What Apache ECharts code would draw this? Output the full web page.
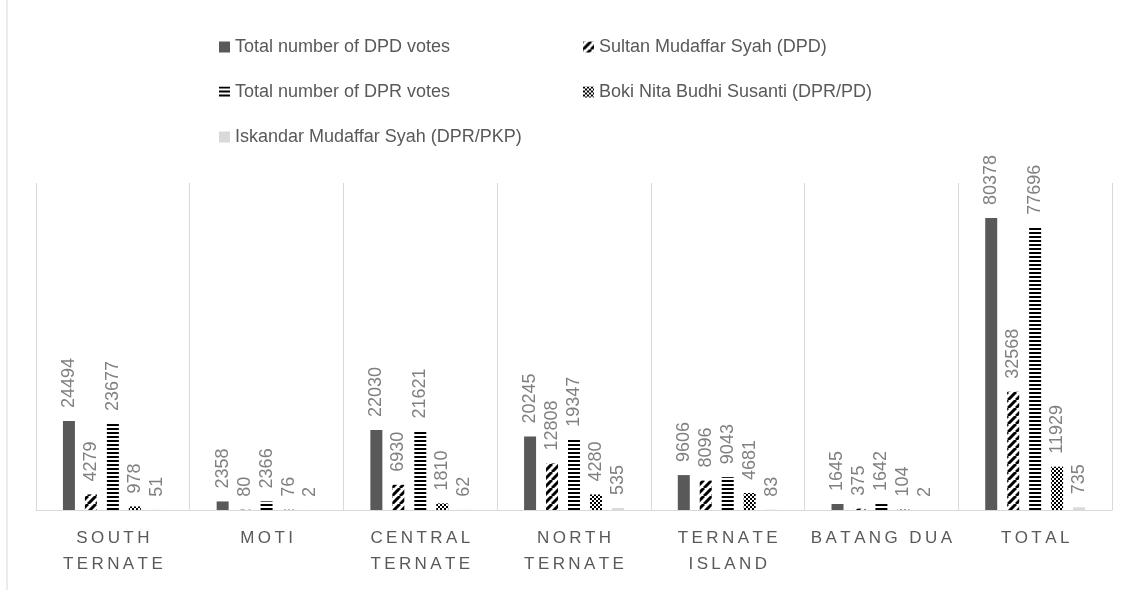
<!DOCTYPE html>
<html>
<head>
<meta charset="utf-8">
<script src="https://cdn.jsdelivr.net/npm/echarts@6/dist/echarts.min.js"></script>
<style>
  html, body { margin: 0; padding: 0; background: #fff; }
  #main { width: 1133px; height: 590px; }
</style>
</head>
<body>
<div id="main"></div>
<script>
// data
var categories = ['South Ternate', 'Moti', 'Central Ternate', 'North Ternate', 'Ternate Island', 'Batang Dua', 'Total'];
var catLabels = ['SOUTH\nTERNATE', 'MOTI', 'CENTRAL\nTERNATE', 'NORTH\nTERNATE', 'TERNATE\nISLAND', 'BATANG DUA', 'TOTAL'];
var seriesNames = [
  'Total number of DPD votes',
  'Sultan Mudaffar Syah (DPD)',
  'Total number of DPR votes',
  'Boki Nita Budhi Susanti (DPR/PD)',
  'Iskandar Mudaffar Syah (DPR/PKP)'
];
var dpdTotal = [24494, 2358, 22030, 20245, 9606, 1645, 80378];
var sultan = [4279, 80, 6930, 12808, 8096, 375, 32568];
var dprTotal = [23677, 2366, 21621, 19347, 9043, 1642, 77696];
var boki = [978, 76, 1810, 4280, 4681, 104, 11929];
var iskandar = [51, 2, 62, 535, 83, 2, 735];

var FONT = '"Liberation Sans", Arial, sans-serif';

// fill patterns
function makePattern(size, drawFn) {
  var c = document.createElement('canvas');
  c.width = size; c.height = size;
  var ctx = c.getContext('2d');
  ctx.fillStyle = '#fff';
  ctx.fillRect(0, 0, size, size);
  drawFn(ctx, size);
  return { image: c, repeat: 'repeat' };
}
var diagPattern = makePattern(8, function (ctx, s) {
  ctx.strokeStyle = '#000';
  ctx.lineWidth = 3;
  ctx.beginPath();
  for (var k = -s; k <= s * 2; k += s) {
    ctx.moveTo(k, s);
    ctx.lineTo(k + s, 0);
  }
  ctx.stroke();
});
var hLinePattern = makePattern(4, function (ctx, s) {
  ctx.fillStyle = '#000';
  ctx.fillRect(0, 0, s, 2);
});
var checkPattern = makePattern(4, function (ctx, s) {
  ctx.fillStyle = '#000';
  ctx.fillRect(0, 0, 2, 2);
  ctx.fillRect(2, 2, 2, 2);
});
var fills = ['#595959', diagPattern, hLinePattern, checkPattern, '#d9d9d9'];
var datas = [dpdTotal, sultan, dprTotal, boki, iskandar];

var myChart = echarts.init(document.getElementById('main'));

var legendPos = [[214, 33], [578, 33], [214, 78], [578, 78], [214, 123]];
var legends = seriesNames.map(function (n, i) {
  return {
    data: [n],
    left: legendPos[i][0],
    top: legendPos[i][1],
    icon: 'rect',
    itemWidth: 11,
    itemHeight: 11,
    selectedMode: false,
    textStyle: { color: '#595959', fontSize: 18, fontFamily: FONT }
  };
});

var series = seriesNames.map(function (n, i) {
  return {
    name: n,
    type: 'bar',
    data: datas[i],
    barWidth: 12,
    barGap: '83%',
    itemStyle: { color: fills[i] },
    label: {
      show: true,
      position: 'top',
      rotate: 90,
      align: 'left',
      verticalAlign: 'middle',
      distance: 13,
      color: '#808080',
      fontSize: 18,
      fontFamily: FONT
    },
    emphasis: { disabled: true }
  };
});

var option = {
  animation: false,
  backgroundColor: '#fff',
  legend: legends,
  grid: { left: 36, right: 21, top: 183, bottom: 80 },
  xAxis: {
    type: 'category',
    data: categories,
    axisLine: { lineStyle: { color: '#d9d9d9', width: 1 } },
    axisTick: { show: false },
    splitLine: { show: true, lineStyle: { color: '#d9d9d9', width: 1 } },
    axisLabel: {
      interval: 0,
      color: '#595959',
      fontSize: 17,
      fontFamily: FONT,
      lineHeight: 26,
      margin: 15,
      formatter: function (v, idx) {
        // spread the letters like the original
        return catLabels[idx].split('\n').map(function (line) {
          return line.split('').join('\u2009');
        }).join('\n');
      }
    }
  },
  yAxis: {
    type: 'value',
    min: 0,
    max: 90000,
    show: false,
    splitLine: { show: false }
  },
  graphic: [{
    type: 'line',
    shape: { x1: 7, y1: 0, x2: 7, y2: 590 },
    style: { stroke: '#d9d9d9', lineWidth: 1 }
  }],
  series: series
};

myChart.setOption(option);
window.onresize = function () { myChart.resize(); };
</script>
</body>
</html>
